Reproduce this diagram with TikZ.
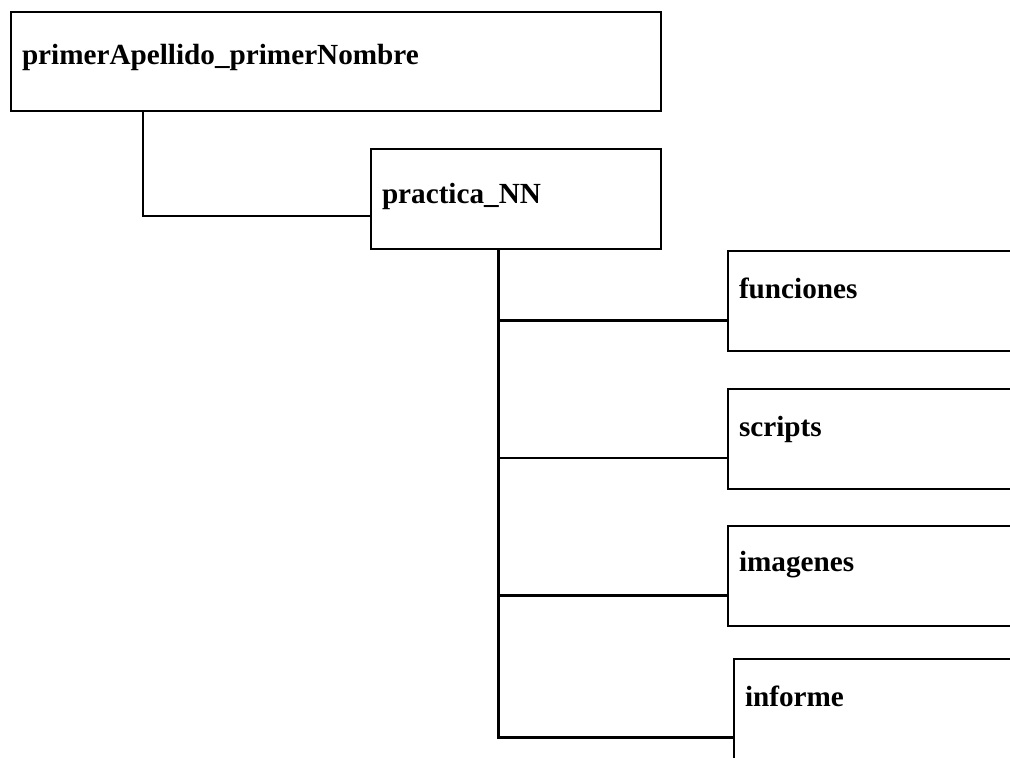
\documentclass[tikz,border=0pt]{standalone}
\usepackage{fontspec}
\setmainfont{Liberation Serif}
\usetikzlibrary{positioning}

\begin{document}
\begin{tikzpicture}[x=0.5pt,y=-0.5pt,
  folder/.style={draw, line width=1pt, anchor=north west, align=left,
    inner xsep=5.5pt, inner ysep=0pt, text height=23.5pt, text depth=26.5pt,
    font=\fontsize{14.6pt}{17pt}\selectfont\bfseries},
  link/.style={line width=1pt},
  trunk/.style={line width=1.5pt}]
\useasboundingbox (0,0) rectangle (1010,757);
\clip (0,0) rectangle (1010,757);
\node [folder, text width=314pt, text height=26pt, text depth=23.5pt] (raiz) at (10,11) {primerApellido\_primerNombre};
\node [folder, text width=134pt, text height=27pt, text depth=23pt] (practica) at (370,148) {practica\_NN};
\node [folder, text width=139pt] (funciones) at (727,250) {funciones};
\node [folder, text width=139pt] (scripts) at (727,388) {scripts};
\node [folder, text width=139pt, text height=22.5pt, text depth=27.5pt] (imagenes) at (727,525) {imagenes};
\node [folder, text width=139pt] (informe) at (733,658) {informe};
\coordinate (codo) at (143,216);
\coordinate (rf) at (498,320);
\coordinate (rs) at (498,458);
\coordinate (ri) at (498,595);
\coordinate (base) at (498,737);
\draw [link] (raiz.south -| codo) |- (practica.west |- codo);
\draw [trunk] (practica.south -| base) -- (base) -- (informe.west |- base);
\draw [trunk] (rf) -- (funciones.west |- rf);
\draw [link] (rs) -- (scripts.west |- rs);
\draw [trunk] (ri) -- (imagenes.west |- ri);
\end{tikzpicture}
\end{document}
